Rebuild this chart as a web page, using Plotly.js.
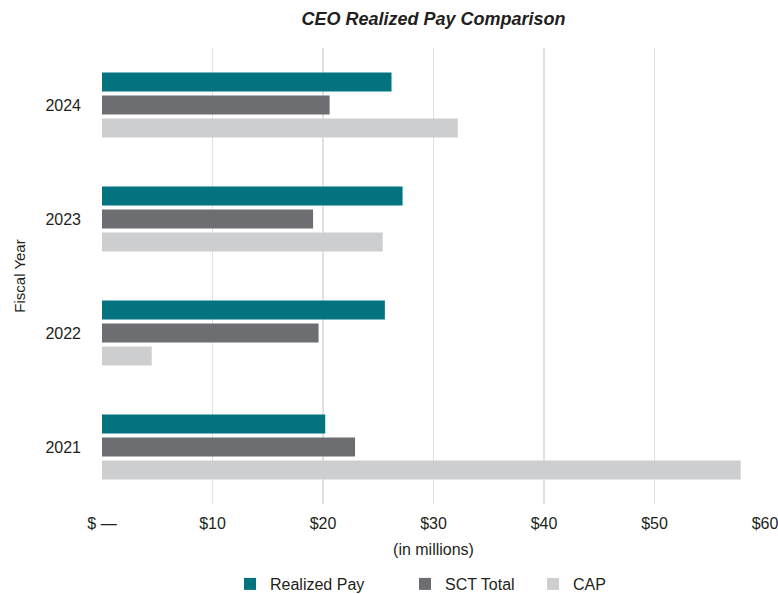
<!DOCTYPE html>
<html>
<head>
<meta charset="utf-8">
<script src="https://cdn.plot.ly/plotly-3.0.1.min.js"></script>
<style>html,body{margin:0;padding:0;background:#fff;}#chart{width:778px;height:594px;}</style>
</head>
<body>
<div id="chart"></div>
<script>
var years = ["2021", "2022", "2023", "2024"];
var realizedPay = [20.2, 25.6, 27.2, 26.2];
var sctTotal = [22.9, 19.6, 19.1, 20.6];
var cap = [57.8, 4.5, 25.4, 32.2];
var xTickVals = [0, 10, 20, 30, 40, 50, 60];
var xTickText = ["$ \u2014", "$10", "$20", "$30", "$40", "$50", "$60"];

var fontFam = "Liberation Sans Narrow, Liberation Sans, Arial, sans-serif";
var txt = "#231f20";

var traces = [
  {type: "bar", orientation: "h", name: "CAP", y: years, x: cap,
   marker: {color: "#cdced0"}, legend: "legend3"},
  {type: "bar", orientation: "h", name: "SCT Total", y: years, x: sctTotal,
   marker: {color: "#6d6e71"}, legend: "legend2"},
  {type: "bar", orientation: "h", name: "Realized Pay", y: years, x: realizedPay,
   marker: {color: "#037380"}, legend: "legend"}
];

function leg(xpx) {
  return {orientation: "h", xref: "container", yref: "container",
          x: xpx / 778, xanchor: "left", y: (594 - 584) / 594, yanchor: "middle",
          font: {size: 16, family: fontFam, color: txt}, itemwidth: 30,
          bgcolor: "rgba(0,0,0,0)"};
}

var layout = {
  width: 778, height: 594,
  paper_bgcolor: "#fff", plot_bgcolor: "#fff",
  margin: {l: 102, r: 13, t: 48, b: 90, autoexpand: false},
  font: {family: fontFam, color: txt, size: 15},
  title: {text: "<b><i>CEO Realized Pay Comparison</i></b>",
          font: {family: "Liberation Sans, Arial, sans-serif", size: 18, color: txt},
          xref: "paper", x: 0.5, xanchor: "center", yref: "container", y: (594 - 19) / 594, yanchor: "middle"},
  barmode: "group", bargap: 0.395, bargroupgap: 0.17,
  xaxis: {range: [0, 60], tickvals: xTickVals, ticktext: xTickText,
          showgrid: true, gridcolor: "#e1e1e1", gridwidth: 1.5, zeroline: false,
          showline: false, ticks: "", ticklabelstandoff: 8, automargin: false,
          ticklabeloverflow: "allow",
          tickfont: {size: 16, family: fontFam, color: txt},
          title: {text: "(in millions)", standoff: 12, font: {size: 16, family: fontFam, color: txt}},
          fixedrange: true},
  yaxis: {type: "category", categoryorder: "array", categoryarray: years,
          range: [-0.5, 3.5], showgrid: false, zeroline: false, showline: false,
          ticks: "", ticklabelstandoff: 20, automargin: false,
          tickfont: {size: 16, family: "Liberation Sans, Arial, sans-serif", color: txt},
          title: {text: "Fiscal Year", standoff: 16,
                  font: {size: 15, family: "Liberation Sans, Arial, sans-serif", color: txt}},
          fixedrange: true},
  legend: leg(230),
  legend2: leg(405),
  legend3: leg(533),
  showlegend: true
};

Plotly.newPlot("chart", traces, layout, {displayModeBar: false, staticPlot: true});
</script>
</body>
</html>
